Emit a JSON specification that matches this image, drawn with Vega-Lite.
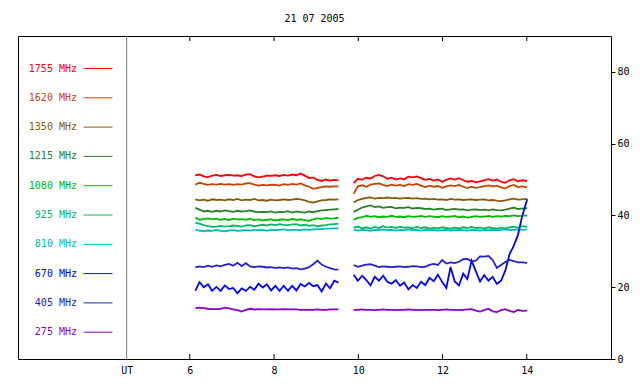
{
  "$schema": "https://vega.github.io/schema/vega-lite/v6.json",
  "width": 593,
  "height": 323,
  "autosize": {"type": "none"},
  "padding": {"left": 18, "top": 36, "right": 29, "bottom": 25},
  "background": "white",
  "title": {"text": "21 07 2005", "font": "DejaVu Sans Mono", "fontSize": 10, "fontWeight": "normal", "color": "black", "anchor": "middle", "offset": 12},
  "config": {
    "view": {"stroke": "black", "strokeWidth": 1},
    "axis": {"labelFont": "DejaVu Sans Mono", "labelFontSize": 10, "labelColor": "black", "tickColor": "black", "domain": false, "grid": false, "title": null}
  },
  "data": {"values": [
    {"seg":1,"t":6.13,"1755 MHz":51.2,"1620 MHz":48.6,"1350 MHz":44.5,"1215 MHz":42.1,"1080 MHz":39.4,"925 MHz":37.9,"810 MHz":36.0,"670 MHz":19.0,"405 MHz":25.5,"275 MHz":14.2},
    {"seg":1,"t":6.23,"1755 MHz":51.4,"1620 MHz":49.1,"1350 MHz":44.2,"1215 MHz":41.6,"1080 MHz":38.8,"925 MHz":37.7,"810 MHz":35.8,"670 MHz":21.4,"405 MHz":25.8,"275 MHz":14.3},
    {"seg":1,"t":6.33,"1755 MHz":50.9,"1620 MHz":48.8,"1350 MHz":44.4,"1215 MHz":41.1,"1080 MHz":39.0,"925 MHz":37.3,"810 MHz":35.6,"670 MHz":20.0,"405 MHz":25.6,"275 MHz":14.2},
    {"seg":1,"t":6.43,"1755 MHz":50.7,"1620 MHz":48.5,"1350 MHz":44.1,"1215 MHz":41.3,"1080 MHz":39.2,"925 MHz":37.0,"810 MHz":35.8,"670 MHz":20.8,"405 MHz":26.0,"275 MHz":14.0},
    {"seg":1,"t":6.53,"1755 MHz":51.1,"1620 MHz":48.7,"1350 MHz":44.5,"1215 MHz":41.0,"1080 MHz":38.9,"925 MHz":36.8,"810 MHz":35.7,"670 MHz":19.0,"405 MHz":25.7,"275 MHz":13.9},
    {"seg":1,"t":6.63,"1755 MHz":51.3,"1620 MHz":48.6,"1350 MHz":44.3,"1215 MHz":41.3,"1080 MHz":39.1,"925 MHz":36.9,"810 MHz":36.0,"670 MHz":20.1,"405 MHz":26.1,"275 MHz":13.9},
    {"seg":1,"t":6.73,"1755 MHz":51.0,"1620 MHz":48.8,"1350 MHz":44.4,"1215 MHz":41.1,"1080 MHz":38.8,"925 MHz":37.1,"810 MHz":35.7,"670 MHz":19.0,"405 MHz":25.8,"275 MHz":14.0},
    {"seg":1,"t":6.83,"1755 MHz":51.2,"1620 MHz":48.6,"1350 MHz":44.2,"1215 MHz":41.4,"1080 MHz":39.0,"925 MHz":36.9,"810 MHz":35.6,"670 MHz":20.5,"405 MHz":26.2,"275 MHz":14.3},
    {"seg":1,"t":6.93,"1755 MHz":51.3,"1620 MHz":48.7,"1350 MHz":44.5,"1215 MHz":41.2,"1080 MHz":38.7,"925 MHz":37.0,"810 MHz":35.8,"670 MHz":19.5,"405 MHz":26.5,"275 MHz":14.1},
    {"seg":1,"t":7.03,"1755 MHz":51.1,"1620 MHz":48.5,"1350 MHz":44.3,"1215 MHz":41.0,"1080 MHz":39.1,"925 MHz":37.2,"810 MHz":35.9,"670 MHz":19.8,"405 MHz":26.0,"275 MHz":13.8},
    {"seg":1,"t":7.13,"1755 MHz":51.2,"1620 MHz":48.7,"1350 MHz":44.6,"1215 MHz":41.3,"1080 MHz":38.9,"925 MHz":37.1,"810 MHz":35.7,"670 MHz":18.3,"405 MHz":26.8,"275 MHz":13.6},
    {"seg":1,"t":7.23,"1755 MHz":51.0,"1620 MHz":48.6,"1350 MHz":44.2,"1215 MHz":41.1,"1080 MHz":39.0,"925 MHz":36.9,"810 MHz":35.8,"670 MHz":19.7,"405 MHz":25.9,"275 MHz":13.2},
    {"seg":1,"t":7.33,"1755 MHz":51.4,"1620 MHz":48.9,"1350 MHz":44.4,"1215 MHz":41.2,"1080 MHz":38.8,"925 MHz":37.2,"810 MHz":35.9,"670 MHz":19.0,"405 MHz":26.7,"275 MHz":13.7},
    {"seg":1,"t":7.43,"1755 MHz":51.5,"1620 MHz":49.0,"1350 MHz":44.3,"1215 MHz":41.4,"1080 MHz":39.1,"925 MHz":37.3,"810 MHz":35.8,"670 MHz":20.1,"405 MHz":25.8,"275 MHz":14.0},
    {"seg":1,"t":7.53,"1755 MHz":50.9,"1620 MHz":48.6,"1350 MHz":44.6,"1215 MHz":41.1,"1080 MHz":38.7,"925 MHz":37.0,"810 MHz":36.0,"670 MHz":19.3,"405 MHz":25.6,"275 MHz":13.8},
    {"seg":1,"t":7.63,"1755 MHz":50.6,"1620 MHz":48.3,"1350 MHz":44.2,"1215 MHz":40.9,"1080 MHz":38.9,"925 MHz":37.2,"810 MHz":35.9,"670 MHz":21.0,"405 MHz":25.8,"275 MHz":13.9},
    {"seg":1,"t":7.73,"1755 MHz":50.8,"1620 MHz":48.5,"1350 MHz":44.3,"1215 MHz":41.0,"1080 MHz":38.6,"925 MHz":37.4,"810 MHz":36.0,"670 MHz":19.9,"405 MHz":25.7,"275 MHz":13.8},
    {"seg":1,"t":7.83,"1755 MHz":51.1,"1620 MHz":48.4,"1350 MHz":44.1,"1215 MHz":40.9,"1080 MHz":38.8,"925 MHz":37.2,"810 MHz":35.8,"670 MHz":20.8,"405 MHz":25.5,"275 MHz":13.8},
    {"seg":1,"t":7.93,"1755 MHz":51.0,"1620 MHz":48.6,"1350 MHz":44.4,"1215 MHz":41.1,"1080 MHz":38.9,"925 MHz":37.5,"810 MHz":36.0,"670 MHz":19.1,"405 MHz":25.6,"275 MHz":13.9},
    {"seg":1,"t":8.03,"1755 MHz":51.2,"1620 MHz":48.5,"1350 MHz":44.2,"1215 MHz":40.8,"1080 MHz":38.6,"925 MHz":37.3,"810 MHz":35.9,"670 MHz":20.4,"405 MHz":25.4,"275 MHz":13.8},
    {"seg":1,"t":8.13,"1755 MHz":51.0,"1620 MHz":48.3,"1350 MHz":44.3,"1215 MHz":41.0,"1080 MHz":38.8,"925 MHz":37.6,"810 MHz":36.0,"670 MHz":19.0,"405 MHz":25.5,"275 MHz":13.8},
    {"seg":1,"t":8.23,"1755 MHz":51.3,"1620 MHz":48.7,"1350 MHz":44.5,"1215 MHz":40.9,"1080 MHz":38.9,"925 MHz":37.4,"810 MHz":36.1,"670 MHz":20.4,"405 MHz":25.3,"275 MHz":13.9},
    {"seg":1,"t":8.33,"1755 MHz":51.1,"1620 MHz":48.5,"1350 MHz":44.3,"1215 MHz":41.2,"1080 MHz":38.7,"925 MHz":37.3,"810 MHz":35.9,"670 MHz":19.0,"405 MHz":25.5,"275 MHz":13.8},
    {"seg":1,"t":8.43,"1755 MHz":51.4,"1620 MHz":48.8,"1350 MHz":44.4,"1215 MHz":40.8,"1080 MHz":39.0,"925 MHz":37.5,"810 MHz":36.0,"670 MHz":20.4,"405 MHz":25.2,"275 MHz":13.8},
    {"seg":1,"t":8.53,"1755 MHz":51.2,"1620 MHz":48.6,"1350 MHz":44.6,"1215 MHz":41.1,"1080 MHz":38.8,"925 MHz":37.6,"810 MHz":36.0,"670 MHz":19.1,"405 MHz":25.3,"275 MHz":13.8},
    {"seg":1,"t":8.63,"1755 MHz":51.7,"1620 MHz":48.9,"1350 MHz":44.5,"1215 MHz":40.9,"1080 MHz":38.9,"925 MHz":37.2,"810 MHz":35.9,"670 MHz":20.9,"405 MHz":25.0,"275 MHz":13.7},
    {"seg":1,"t":8.73,"1755 MHz":51.1,"1620 MHz":48.4,"1350 MHz":44.2,"1215 MHz":40.8,"1080 MHz":38.7,"925 MHz":37.4,"810 MHz":36.1,"670 MHz":20.2,"405 MHz":25.2,"275 MHz":13.7},
    {"seg":1,"t":8.83,"1755 MHz":50.4,"1620 MHz":48.0,"1350 MHz":43.8,"1215 MHz":41.1,"1080 MHz":38.5,"925 MHz":37.1,"810 MHz":36.0,"670 MHz":21.2,"405 MHz":25.6,"275 MHz":13.7},
    {"seg":1,"t":8.93,"1755 MHz":50.6,"1620 MHz":47.4,"1350 MHz":43.6,"1215 MHz":40.9,"1080 MHz":38.9,"925 MHz":37.3,"810 MHz":36.1,"670 MHz":20.3,"405 MHz":26.4,"275 MHz":13.7},
    {"seg":1,"t":9.03,"1755 MHz":49.9,"1620 MHz":47.7,"1350 MHz":43.9,"1215 MHz":41.2,"1080 MHz":39.2,"925 MHz":37.0,"810 MHz":36.2,"670 MHz":20.6,"405 MHz":27.4,"275 MHz":13.8},
    {"seg":1,"t":9.13,"1755 MHz":49.6,"1620 MHz":47.9,"1350 MHz":44.2,"1215 MHz":41.4,"1080 MHz":39.0,"925 MHz":37.2,"810 MHz":36.2,"670 MHz":18.8,"405 MHz":26.3,"275 MHz":13.7},
    {"seg":1,"t":9.23,"1755 MHz":50.0,"1620 MHz":48.1,"1350 MHz":44.3,"1215 MHz":41.5,"1080 MHz":39.3,"925 MHz":37.3,"810 MHz":36.3,"670 MHz":21.0,"405 MHz":25.7,"275 MHz":13.7},
    {"seg":1,"t":9.33,"1755 MHz":49.7,"1620 MHz":48.0,"1350 MHz":44.5,"1215 MHz":41.6,"1080 MHz":39.1,"925 MHz":37.5,"810 MHz":36.3,"670 MHz":19.7,"405 MHz":25.3,"275 MHz":13.8},
    {"seg":1,"t":9.43,"1755 MHz":49.9,"1620 MHz":48.1,"1350 MHz":44.4,"1215 MHz":41.7,"1080 MHz":39.2,"925 MHz":37.6,"810 MHz":36.4,"670 MHz":21.8,"405 MHz":25.0,"275 MHz":13.8},
    {"seg":1,"t":9.53,"1755 MHz":49.8,"1620 MHz":48.1,"1350 MHz":44.5,"1215 MHz":41.8,"1080 MHz":39.4,"925 MHz":37.7,"810 MHz":36.4,"670 MHz":21.3,"405 MHz":24.9,"275 MHz":13.8},
    {"seg":2,"t":9.89,"1755 MHz":49.0,"1620 MHz":46.0,"1350 MHz":43.6,"1215 MHz":41.0,"1080 MHz":38.8,"925 MHz":36.6,"810 MHz":36.1,"670 MHz":23.5,"405 MHz":26.2,"275 MHz":13.7},
    {"seg":2,"t":9.99,"1755 MHz":50.2,"1620 MHz":48.1,"1350 MHz":44.3,"1215 MHz":41.6,"1080 MHz":39.3,"925 MHz":36.9,"810 MHz":35.8,"670 MHz":21.8,"405 MHz":25.7,"275 MHz":13.7},
    {"seg":2,"t":10.09,"1755 MHz":50.0,"1620 MHz":48.4,"1350 MHz":44.6,"1215 MHz":42.2,"1080 MHz":39.5,"925 MHz":36.4,"810 MHz":36.0,"670 MHz":23.2,"405 MHz":26.0,"275 MHz":13.8},
    {"seg":2,"t":10.19,"1755 MHz":50.5,"1620 MHz":48.0,"1350 MHz":44.9,"1215 MHz":42.5,"1080 MHz":39.9,"925 MHz":36.7,"810 MHz":35.9,"670 MHz":22.0,"405 MHz":26.3,"275 MHz":13.7},
    {"seg":2,"t":10.29,"1755 MHz":50.3,"1620 MHz":48.6,"1350 MHz":45.0,"1215 MHz":42.8,"1080 MHz":39.6,"925 MHz":36.3,"810 MHz":35.7,"670 MHz":20.5,"405 MHz":26.4,"275 MHz":13.7},
    {"seg":2,"t":10.39,"1755 MHz":51.0,"1620 MHz":48.8,"1350 MHz":44.7,"1215 MHz":42.3,"1080 MHz":39.8,"925 MHz":36.8,"810 MHz":36.0,"670 MHz":22.9,"405 MHz":26.0,"275 MHz":13.6},
    {"seg":2,"t":10.49,"1755 MHz":51.3,"1620 MHz":48.9,"1350 MHz":44.9,"1215 MHz":42.5,"1080 MHz":39.5,"925 MHz":36.5,"810 MHz":35.9,"670 MHz":21.8,"405 MHz":25.6,"275 MHz":13.7},
    {"seg":2,"t":10.59,"1755 MHz":50.9,"1620 MHz":48.5,"1350 MHz":44.8,"1215 MHz":42.1,"1080 MHz":39.7,"925 MHz":37.0,"810 MHz":36.1,"670 MHz":23.2,"405 MHz":25.8,"275 MHz":13.8},
    {"seg":2,"t":10.69,"1755 MHz":50.2,"1620 MHz":48.2,"1350 MHz":45.0,"1215 MHz":42.3,"1080 MHz":39.6,"925 MHz":36.6,"810 MHz":35.9,"670 MHz":21.5,"405 MHz":25.7,"275 MHz":13.7},
    {"seg":2,"t":10.79,"1755 MHz":50.5,"1620 MHz":48.6,"1350 MHz":44.8,"1215 MHz":42.4,"1080 MHz":39.9,"925 MHz":36.8,"810 MHz":36.0,"670 MHz":21.0,"405 MHz":25.6,"275 MHz":13.7},
    {"seg":2,"t":10.89,"1755 MHz":50.0,"1620 MHz":48.3,"1350 MHz":44.9,"1215 MHz":42.0,"1080 MHz":39.6,"925 MHz":36.5,"810 MHz":35.8,"670 MHz":22.0,"405 MHz":25.7,"275 MHz":13.6},
    {"seg":2,"t":10.99,"1755 MHz":50.3,"1620 MHz":48.5,"1350 MHz":44.7,"1215 MHz":42.2,"1080 MHz":39.7,"925 MHz":36.9,"810 MHz":36.0,"670 MHz":20.4,"405 MHz":25.8,"275 MHz":13.7},
    {"seg":2,"t":11.09,"1755 MHz":50.1,"1620 MHz":48.2,"1350 MHz":44.8,"1215 MHz":42.1,"1080 MHz":39.5,"925 MHz":36.6,"810 MHz":35.9,"670 MHz":21.3,"405 MHz":25.6,"275 MHz":13.7},
    {"seg":2,"t":11.19,"1755 MHz":50.8,"1620 MHz":48.7,"1350 MHz":44.9,"1215 MHz":42.3,"1080 MHz":39.8,"925 MHz":36.7,"810 MHz":36.1,"670 MHz":19.4,"405 MHz":25.7,"275 MHz":13.8},
    {"seg":2,"t":11.29,"1755 MHz":50.6,"1620 MHz":48.5,"1350 MHz":44.7,"1215 MHz":41.9,"1080 MHz":39.6,"925 MHz":36.4,"810 MHz":35.9,"670 MHz":20.6,"405 MHz":25.9,"275 MHz":13.7},
    {"seg":2,"t":11.39,"1755 MHz":50.9,"1620 MHz":48.8,"1350 MHz":44.8,"1215 MHz":42.1,"1080 MHz":39.7,"925 MHz":36.8,"810 MHz":36.0,"670 MHz":19.8,"405 MHz":25.8,"275 MHz":13.7},
    {"seg":2,"t":11.49,"1755 MHz":50.4,"1620 MHz":48.3,"1350 MHz":44.6,"1215 MHz":42.0,"1080 MHz":39.9,"925 MHz":36.5,"810 MHz":35.8,"670 MHz":21.5,"405 MHz":25.6,"275 MHz":13.6},
    {"seg":2,"t":11.59,"1755 MHz":49.9,"1620 MHz":47.9,"1350 MHz":44.7,"1215 MHz":41.8,"1080 MHz":39.6,"925 MHz":36.7,"810 MHz":36.0,"670 MHz":20.6,"405 MHz":25.7,"275 MHz":13.7},
    {"seg":2,"t":11.69,"1755 MHz":50.2,"1620 MHz":48.3,"1350 MHz":44.5,"1215 MHz":41.9,"1080 MHz":39.8,"925 MHz":36.3,"810 MHz":35.9,"670 MHz":22.6,"405 MHz":26.2,"275 MHz":13.7},
    {"seg":2,"t":11.79,"1755 MHz":49.7,"1620 MHz":48.0,"1350 MHz":44.6,"1215 MHz":41.6,"1080 MHz":39.7,"925 MHz":36.6,"810 MHz":36.0,"670 MHz":21.7,"405 MHz":26.5,"275 MHz":13.7},
    {"seg":2,"t":11.89,"1755 MHz":50.0,"1620 MHz":48.2,"1350 MHz":44.4,"1215 MHz":41.8,"1080 MHz":39.5,"925 MHz":36.4,"810 MHz":35.8,"670 MHz":23.5,"405 MHz":26.2,"275 MHz":13.6},
    {"seg":2,"t":11.99,"1755 MHz":49.4,"1620 MHz":47.7,"1350 MHz":44.5,"1215 MHz":41.9,"1080 MHz":39.8,"925 MHz":36.7,"810 MHz":35.9,"670 MHz":21.5,"405 MHz":27.6,"275 MHz":13.7},
    {"seg":2,"t":12.09,"1755 MHz":49.9,"1620 MHz":48.1,"1350 MHz":44.3,"1215 MHz":41.5,"1080 MHz":39.6,"925 MHz":36.5,"810 MHz":36.0,"670 MHz":19.8,"405 MHz":26.6,"275 MHz":13.8},
    {"seg":2,"t":12.19,"1755 MHz":50.3,"1620 MHz":48.4,"1350 MHz":44.6,"1215 MHz":41.7,"1080 MHz":39.7,"925 MHz":36.3,"810 MHz":35.8,"670 MHz":25.6,"405 MHz":26.9,"275 MHz":13.7},
    {"seg":2,"t":12.29,"1755 MHz":50.0,"1620 MHz":48.2,"1350 MHz":44.4,"1215 MHz":41.8,"1080 MHz":39.9,"925 MHz":36.6,"810 MHz":35.9,"670 MHz":21.6,"405 MHz":26.7,"275 MHz":13.7},
    {"seg":2,"t":12.39,"1755 MHz":50.4,"1620 MHz":48.5,"1350 MHz":44.5,"1215 MHz":41.6,"1080 MHz":39.5,"925 MHz":36.4,"810 MHz":36.0,"670 MHz":20.5,"405 MHz":27.1,"275 MHz":13.6},
    {"seg":2,"t":12.49,"1755 MHz":49.8,"1620 MHz":48.0,"1350 MHz":44.3,"1215 MHz":41.7,"1080 MHz":39.7,"925 MHz":36.7,"810 MHz":35.9,"670 MHz":23.8,"405 MHz":27.8,"275 MHz":13.7},
    {"seg":2,"t":12.59,"1755 MHz":49.4,"1620 MHz":47.6,"1350 MHz":44.4,"1215 MHz":41.4,"1080 MHz":39.4,"925 MHz":36.5,"810 MHz":35.8,"670 MHz":22.3,"405 MHz":27.9,"275 MHz":13.8},
    {"seg":2,"t":12.69,"1755 MHz":49.6,"1620 MHz":48.0,"1350 MHz":44.5,"1215 MHz":41.6,"1080 MHz":39.6,"925 MHz":36.8,"810 MHz":36.0,"670 MHz":27.4,"405 MHz":27.2,"275 MHz":13.9},
    {"seg":2,"t":12.79,"1755 MHz":49.3,"1620 MHz":47.7,"1350 MHz":44.3,"1215 MHz":41.7,"1080 MHz":39.8,"925 MHz":36.5,"810 MHz":35.9,"670 MHz":24.5,"405 MHz":27.4,"275 MHz":13.5},
    {"seg":2,"t":12.89,"1755 MHz":49.5,"1620 MHz":47.9,"1350 MHz":44.4,"1215 MHz":41.5,"1080 MHz":39.6,"925 MHz":36.6,"810 MHz":35.8,"670 MHz":21.6,"405 MHz":28.6,"275 MHz":13.2},
    {"seg":2,"t":12.99,"1755 MHz":49.8,"1620 MHz":48.2,"1350 MHz":44.5,"1215 MHz":41.6,"1080 MHz":39.7,"925 MHz":36.4,"810 MHz":36.0,"670 MHz":23.4,"405 MHz":28.5,"275 MHz":13.6},
    {"seg":2,"t":13.09,"1755 MHz":50.1,"1620 MHz":48.4,"1350 MHz":44.2,"1215 MHz":41.4,"1080 MHz":39.9,"925 MHz":36.7,"810 MHz":35.9,"670 MHz":21.8,"405 MHz":28.7,"275 MHz":14.0},
    {"seg":2,"t":13.19,"1755 MHz":49.7,"1620 MHz":48.1,"1350 MHz":44.3,"1215 MHz":41.7,"1080 MHz":39.6,"925 MHz":36.5,"810 MHz":36.0,"670 MHz":22.9,"405 MHz":27.6,"275 MHz":13.3},
    {"seg":2,"t":13.29,"1755 MHz":50.0,"1620 MHz":48.3,"1350 MHz":44.1,"1215 MHz":41.5,"1080 MHz":39.8,"925 MHz":36.3,"810 MHz":35.9,"670 MHz":20.9,"405 MHz":25.4,"275 MHz":13.1},
    {"seg":2,"t":13.39,"1755 MHz":49.4,"1620 MHz":47.8,"1350 MHz":44.0,"1215 MHz":41.4,"1080 MHz":39.7,"925 MHz":36.6,"810 MHz":36.0,"670 MHz":21.8,"405 MHz":26.2,"275 MHz":13.6},
    {"seg":2,"t":13.49,"1755 MHz":49.1,"1620 MHz":47.5,"1350 MHz":44.2,"1215 MHz":41.6,"1080 MHz":39.9,"925 MHz":36.4,"810 MHz":36.1,"670 MHz":24.6,"405 MHz":27.0,"275 MHz":13.9},
    {"seg":2,"t":13.59,"1755 MHz":49.8,"1620 MHz":48.2,"1350 MHz":44.5,"1215 MHz":41.9,"1080 MHz":39.8,"925 MHz":36.7,"810 MHz":35.9,"670 MHz":29.2,"405 MHz":27.6,"275 MHz":13.4},
    {"seg":2,"t":13.69,"1755 MHz":50.1,"1620 MHz":48.5,"1350 MHz":44.7,"1215 MHz":42.2,"1080 MHz":40.0,"925 MHz":36.9,"810 MHz":36.0,"670 MHz":31.5,"405 MHz":27.3,"275 MHz":13.1},
    {"seg":2,"t":13.79,"1755 MHz":49.5,"1620 MHz":47.9,"1350 MHz":44.4,"1215 MHz":41.8,"1080 MHz":39.8,"925 MHz":36.6,"810 MHz":36.1,"670 MHz":34.5,"405 MHz":26.9,"275 MHz":13.7},
    {"seg":2,"t":13.89,"1755 MHz":49.8,"1620 MHz":48.1,"1350 MHz":44.5,"1215 MHz":41.9,"1080 MHz":39.9,"925 MHz":37.0,"810 MHz":36.0,"670 MHz":39.8,"405 MHz":26.9,"275 MHz":13.4},
    {"seg":2,"t":14.01,"1755 MHz":49.6,"1620 MHz":47.8,"1350 MHz":44.6,"1215 MHz":42.0,"1080 MHz":40.0,"925 MHz":36.8,"810 MHz":36.1,"670 MHz":44.5,"405 MHz":26.8,"275 MHz":13.5}
  ]},
  "resolve": {"axis": {"x": "independent"}},
  "layer": [
    {
      "data": {"values": [{}]},
      "mark": {"type": "rule", "color": "#808080", "strokeWidth": 1},
      "encoding": {
        "x": {"datum": 4.5, "type": "quantitative", "scale": {"domain": [1.92, 16], "nice": false, "zero": false}, "axis": null}
      }
    },
    {
      "data": {"values": [{"h": 6}, {"h": 8}, {"h": 10}, {"h": 12}, {"h": 14}]},
      "mark": {"type": "rule", "color": "black", "strokeWidth": 1},
      "encoding": {
        "x": {"field": "h", "type": "quantitative", "axis": null},
        "y": {"datum": 0, "type": "quantitative"},
        "y2": {"datum": 1.4}
      }
    },
    {
      "data": {"values": [{"h": 6}, {"h": 8}, {"h": 10}, {"h": 12}, {"h": 14}]},
      "mark": {"type": "rule", "color": "black", "strokeWidth": 1},
      "encoding": {
        "x": {"field": "h", "type": "quantitative", "axis": null},
        "y": {"datum": 88.6, "type": "quantitative"},
        "y2": {"datum": 90}
      }
    },
    {
      "transform": [{"fold": ["1755 MHz","1620 MHz","1350 MHz","1215 MHz","1080 MHz","925 MHz","810 MHz","670 MHz","405 MHz","275 MHz"], "as": ["band", "flux"]}],
      "mark": {"type": "line", "strokeWidth": 1.8},
      "encoding": {
        "x": {"field": "t", "type": "quantitative",
              "scale": {"domain": [1.92, 16], "nice": false, "zero": false},
              "axis": {"orient": "bottom", "values": [4.5, 6, 8, 10, 12, 14], "labelExpr": "datum.value == 4.5 ? 'UT' : format(datum.value, 'd')", "ticks": false, "labelPadding": 6}},
        "y": {"field": "flux", "type": "quantitative",
              "scale": {"domain": [0, 90], "nice": false, "zero": true},
              "axis": {"orient": "right", "values": [0, 20, 40, 60, 80], "tickSize": 4, "labelPadding": 2}},
        "color": {"field": "band", "type": "nominal",
                  "scale": {"domain": ["1755 MHz","1620 MHz","1350 MHz","1215 MHz","1080 MHz","925 MHz","810 MHz","670 MHz","405 MHz","275 MHz"],
                            "range": ["#ff0000","#c84200","#8a5a08","#2a802a","#00bb00","#00bb66","#00bbbb","#0000ff","#2222cc","#8800cc"]},
                  "legend": {"orient": "none", "legendX": 65, "legendY": 17.5, "title": null, "symbolType": "stroke", "symbolSize": 841, "symbolStrokeWidth": 1,
                             "labelAlign": "right", "labelOffset": -36, "labelFont": "DejaVu Sans Mono", "labelFontSize": 10, "rowPadding": 9.3, "padding": 0, "labelLimit": 0,
                             "encode": {"labels": {"update": {"fill": {"scale": "color", "field": "value"}}}}}},
        "detail": {"field": "seg", "type": "nominal"}
      }
    }
  ]
}
